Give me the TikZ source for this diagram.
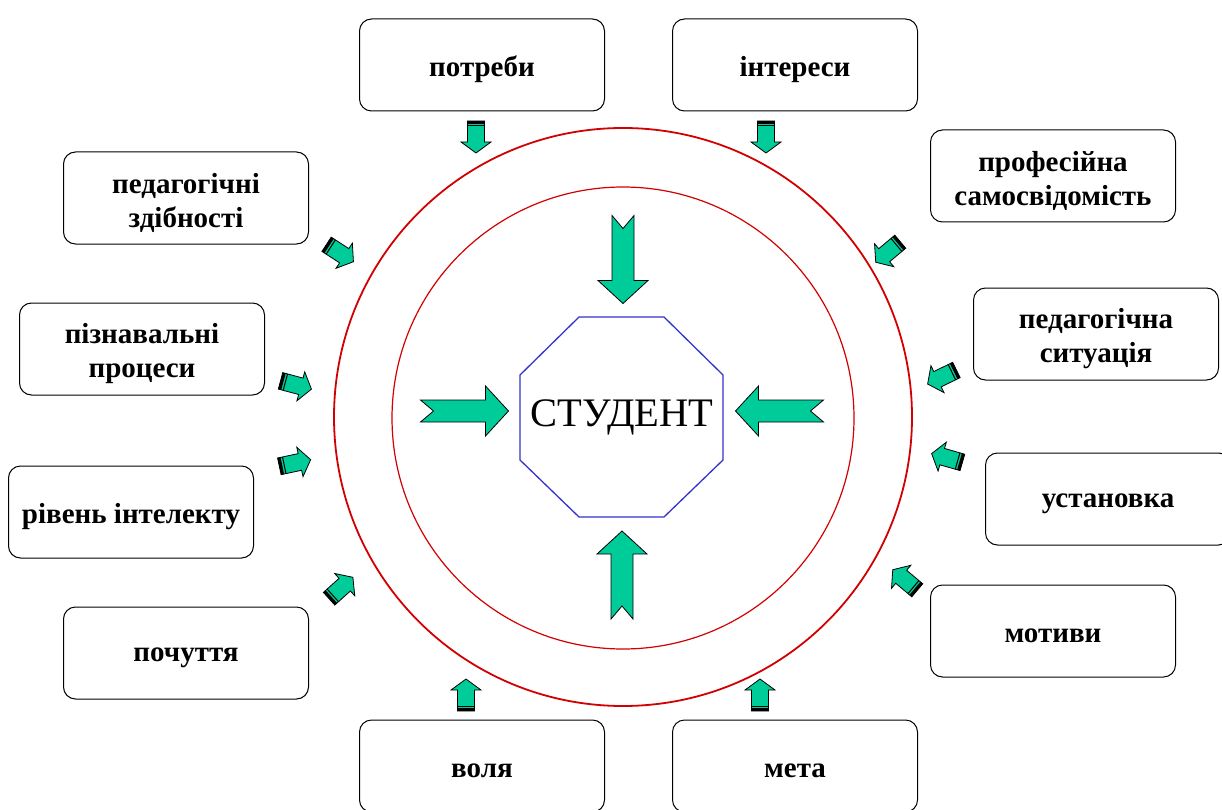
\documentclass[tikz,border=0pt]{standalone}
\usepackage{fontspec}
\setmainfont{Liberation Serif}
\definecolor{arrowgreen}{RGB}{0,204,153}
\definecolor{ringred}{RGB}{210,0,0}
\definecolor{octblue}{RGB}{51,51,204}
\tikzset{
  x=1pt, y=1pt,
  box/.style={draw=black, line width=1pt, rounded corners=12pt, minimum width=245pt, minimum height=92pt, inner sep=0pt},
  boxtext/.style={align=center, inner sep=0pt, font=\fontsize{29}{34}\selectfont\bfseries},
  ring/.style={circle, draw=ringred, inner sep=0pt},
  sarrow/.pic={
    \filldraw[fill=arrowgreen, draw=black, line width=0.8pt]
      (-16,-8.5) -- (5,-8.5) -- (5,-15) -- (16,0) -- (5,15) -- (5,8.5) -- (-16,8.5) -- cycle;
    \fill[black] (-16,-8.5) rectangle (-13,8.5);
    \draw[black, line width=1pt] (-11,-8.5) -- (-11,8.5);
  },
  bigarrow/.pic={
    \filldraw[fill=arrowgreen, draw=black, line width=0.8pt]
      (-44,11) -- (21,11) -- (21,25) -- (44,0) -- (21,-25) -- (21,-11) -- (-44,-11) -- (-31,0) -- cycle;
  }
}
\newcommand{\labelbox}[3]{%
  \node[box] (#1) at (#2) {};
  \node[boxtext] (#1text) at ([yshift=-4.5]#1.center) {#3};
}
\begin{document}
\begin{tikzpicture}
\clip (0,0) rectangle (1222,-810);
\fill[white] (0,0) rectangle (1222,-810);

% rings
\node[ring, line width=1.8pt, minimum size=578pt] (outer) at (623,-417) {};
\node[ring, line width=1.2pt, minimum size=462pt] (inner) at (623,-418) {};

% octagon with the student
\coordinate (o1) at (579,-317);
\coordinate (o2) at (664,-317);
\coordinate (o3) at (723,-375);
\coordinate (o4) at (723,-460);
\coordinate (o5) at (664,-517);
\coordinate (o6) at (579,-517);
\coordinate (o7) at (520,-460);
\coordinate (o8) at (520,-375);
\draw[octblue, line width=1.3pt] (o1) -- (o2) -- (o3) -- (o4) -- (o5) -- (o6) -- (o7) -- (o8) -- cycle;
\node[inner sep=0pt, font=\fontsize{40.5}{44}\selectfont] (student) at (622,-417) {СТУДЕНТ};

% boxes
\labelbox{potreby}{482,-65}{потреби}
\labelbox{interesy}{795,-65}{інтереси}
\labelbox{samosv}{1053,-176}{професійна\\самосвідомість}
\labelbox{sytuac}{1096,-334}{педагогічна\\ситуація}
\labelbox{ustan}{1108,-499}{установка}
\labelbox{motyvy}{1053,-631}{мотиви}
\labelbox{meta}{795,-766}{мета}
\labelbox{volia}{482,-766}{воля}
\labelbox{pochut}{186,-653}{почуття}
\labelbox{intel}{131,-512}{рівень інтелекту}
\labelbox{piznav}{142,-349}{пізнавальні\\процеси}
\labelbox{zdibn}{186,-198}{педагогічні\\здібності}

% big arrows
\pic[rotate=-90] at (623,-259.5) {bigarrow};
\pic at (464.5,-411) {bigarrow};
\pic[rotate=180] at (779.5,-411) {bigarrow};
\pic[rotate=90] at (622,-575) {bigarrow};

% small arrows
\pic[rotate=-90] at (476,-137) {sarrow};
\pic[rotate=-90] at (766,-137) {sarrow};
\pic[rotate=220] at (888,-252) {sarrow};
\pic[rotate=206] at (942,-377) {sarrow};
\pic[rotate=164] at (947,-458) {sarrow};
\pic[rotate=140] at (905,-580) {sarrow};
\pic[rotate=90] at (760,-695) {sarrow};
\pic[rotate=90] at (466,-695) {sarrow};
\pic[rotate=42] at (341,-588) {sarrow};
\pic[rotate=12] at (295,-463) {sarrow};
\pic[rotate=-15] at (296,-385) {sarrow};
\pic[rotate=-33] at (340,-253) {sarrow};
\end{tikzpicture}
\end{document}
